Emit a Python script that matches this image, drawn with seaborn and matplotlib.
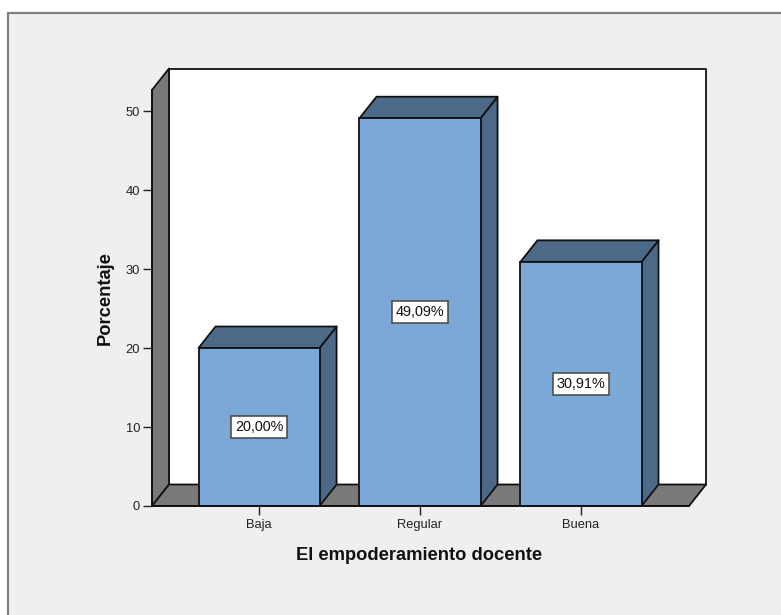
import pandas as pd
import matplotlib
matplotlib.use("Agg")
import matplotlib.pyplot as plt
from matplotlib.patches import Polygon, Rectangle
import seaborn as sns

categorias = ["Baja", "Regular", "Buena"]
porcentajes = [20.00, 49.09, 30.91]
etiquetas = ["20,00%", "49,09%", "30,91%"]
y_ticks = [0, 10, 20, 30, 40, 50]

W, H = 781, 615
FRONT = "#7ba8d6"
DARK = "#4c6a88"
WALL = "#797979"
EDGE = "#111111"

sns.set_theme(style="white")
plt.rcParams['font.family'] = ['Liberation Sans', 'DejaVu Sans']

fig = plt.figure(figsize=(W / 100, H / 100), dpi=100, facecolor="white")
fig.add_artist(Rectangle((8 / W, -0.01), 1.01, 1.01 - 13 / H, transform=fig.transFigure,
                         facecolor="#efefef", edgecolor="#808080", linewidth=1.6, zorder=-1))

# plano frontal del grafico en pixeles
ax = fig.add_axes([152 / W, 1 - 506 / H, 537 / W, 416 / H])
ax.patch.set_alpha(0)

df = pd.DataFrame({"categoria": categorias, "porcentaje": porcentajes})
sns.barplot(data=df, x="categoria", y="porcentaje", color=FRONT, saturation=1, width=0.752,
            edgecolor=EDGE, linewidth=1.3, ax=ax, zorder=5)

ax.set_xlim(-0.665, 2.671)
ax.set_ylim(0, 52.66)
dx = 17 / 161
dy = 2.72
x0, x1 = ax.get_xlim()
y1 = ax.get_ylim()[1]


def poly(pts, color, z):
    ax.add_patch(Polygon(pts, closed=True, facecolor=color, edgecolor=EDGE, linewidth=1.3,
                         clip_on=False, zorder=z, joinstyle="round"))


# paredes
poly([(x0 + dx, dy), (x1 + dx, dy), (x1 + dx, y1 + dy), (x0 + dx, y1 + dy)], "white", 1)
poly([(x0, 0), (x0 + dx, dy), (x0 + dx, y1 + dy), (x0, y1)], WALL, 2)
poly([(x0, 0), (x0 + dx, dy), (x1 + dx, dy), (x1, 0)], WALL, 2)

# caras 3d de las barras
for bar in ax.patches[:len(categorias)]:
    a, b, h = bar.get_x(), bar.get_x() + bar.get_width(), bar.get_height()
    poly([(b, 0), (b + dx, dy), (b + dx, h + dy), (b, h)], DARK, 4)
    poly([(a, h), (a + dx, h + dy), (b + dx, h + dy), (b, h)], DARK, 4)

for i, (v, txt) in enumerate(zip(porcentajes, etiquetas)):
    ax.text(i, v / 2, txt, ha="center", va="center", fontsize=10.4, color="#111111", zorder=8,
            bbox=dict(boxstyle="square,pad=0.26", facecolor="white", edgecolor="#444444", linewidth=1.1))

sns.despine(ax=ax)
ax.spines["left"].set_zorder(6)
ax.spines["bottom"].set_zorder(6)
for s in ["left", "bottom"]:
    ax.spines[s].set_linewidth(1.3)
    ax.spines[s].set_color(EDGE)

ax.set_yticks(y_ticks)
ax.tick_params(axis="both", which="major", bottom=True, left=True, length=6.5, width=1, color="#222222",
               labelsize=9.3, labelcolor="#222222", pad=2)
ax.tick_params(axis="x", pad=3)
ax.set_xlabel("")
ax.set_ylabel("")
fig.text(419.5 / W, 1 - 556 / H, "El empoderamiento docente", ha="center", va="center",
         fontsize=13.2, fontweight="bold", color="#111111")
fig.text(105 / W, 1 - 298 / H, "Porcentaje", ha="center", va="center", rotation=90,
         fontsize=13.2, fontweight="bold", color="#111111")

fig.savefig("out.png", dpi=100)
